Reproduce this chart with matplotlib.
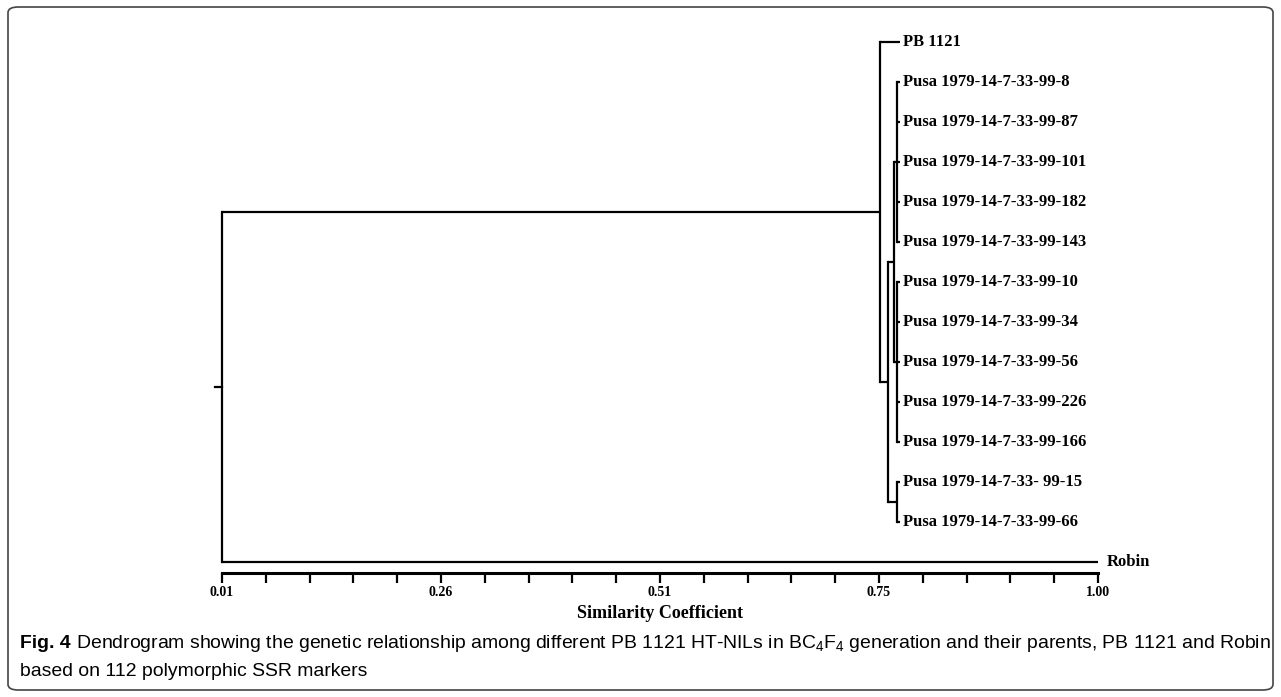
import matplotlib
matplotlib.use("Agg")
import matplotlib.pyplot as plt
from matplotlib.patches import FancyBboxPatch
import numpy as np

plt.rcParams['mathtext.default'] = 'regular'

# ---------------- data ----------------
leaf_labels = [
    "PB 1121",
    "Pusa 1979-14-7-33-99-8",
    "Pusa 1979-14-7-33-99-87",
    "Pusa 1979-14-7-33-99-101",
    "Pusa 1979-14-7-33-99-182",
    "Pusa 1979-14-7-33-99-143",
    "Pusa 1979-14-7-33-99-10",
    "Pusa 1979-14-7-33-99-34",
    "Pusa 1979-14-7-33-99-56",
    "Pusa 1979-14-7-33-99-226",
    "Pusa 1979-14-7-33-99-166",
    "Pusa 1979-14-7-33- 99-15",
    "Pusa 1979-14-7-33-99-66",
    "Robin",
]
# where each leaf's branch ends (similarity units, as drawn)
leaf_end = [0.776] * 13 + [1.00]

# clusters: name -> (children, similarity at which they join)
cluster_names = ["A", "B", "D", "C", "E", "F", "root"]
cluster_children = {
    "A": [1, 2, 3, 4, 5],
    "B": [6, 7, 8, 9, 10],
    "D": [11, 12],
    "C": ["A", "B"],
    "E": ["C", "D"],
    "F": [0, "E"],
    "root": ["F", 13],
}
cluster_sim = {"A": 0.773, "B": 0.773, "D": 0.773, "C": 0.770,
               "E": 0.763, "F": 0.754, "root": 0.01}
root_stub = 0.002

tick_values = np.linspace(0.01, 1.00, 21)
tick_labels = ["0.01", "", "", "", "", "0.26", "", "", "", "", "0.51",
               "", "", "", "", "0.75", "", "", "", "", "1.00"]
x_title = "Similarity Coefficient"

# ---------------- figure ----------------
W, H = 1281, 697
fig = plt.figure(figsize=(W / 100, H / 100), dpi=100)

ax_left = 222 / W
ax_width = 876 / W
ax_bottom = 1 - 573 / H
ax_top = 1 - 30 / H
ax = fig.add_axes([ax_left, ax_bottom, ax_width, ax_top - ax_bottom])

lw = 1.6
col = "black"

ypos = {i: float(i) for i in range(len(leaf_labels))}
xpos = {i: leaf_end[i] for i in range(len(leaf_labels))}
for name in cluster_names:
    ch = cluster_children[name]
    ys = [ypos[c] for c in ch]
    xn = cluster_sim[name]
    ax.plot([xn, xn], [min(ys), max(ys)], color=col, lw=lw,
            solid_capstyle="projecting", clip_on=False)
    for c in ch:
        ax.plot([xn, xpos[c]], [ypos[c], ypos[c]], color=col, lw=lw,
                solid_capstyle="butt", clip_on=False)
    ypos[name] = (min(ys) + max(ys)) / 2
    xpos[name] = xn

# root stub
ax.plot([root_stub, cluster_sim["root"]], [ypos["root"], ypos["root"]],
        color=col, lw=lw, clip_on=False)

# leaf labels
for i, lab in enumerate(leaf_labels):
    off = 6 if i == len(leaf_labels) - 1 else 2
    ax.annotate(lab, xy=(leaf_end[i], ypos[i]), xytext=(off, 0),
                textcoords="offset points", va="center", ha="left",
                fontfamily="Liberation Serif", fontweight="bold",
                fontsize=12, annotation_clip=False)

ax.set_xlim(0.01, 1.00)
ax.set_ylim(13.275, -0.3)
for s in ["top", "left", "right"]:
    ax.spines[s].set_visible(False)
ax.spines["bottom"].set_linewidth(2.2)
ax.set_yticks([])
ax.set_xticks(tick_values)
ax.set_xticklabels(tick_labels, fontfamily="Liberation Serif",
                   fontweight="bold", fontsize=10)
ax.tick_params(axis="x", direction="out", length=7, width=1.6, pad=2)

fig.text(660 / W, 1 - 613 / H, x_title, ha="center", va="center",
         fontfamily="Liberation Serif", fontweight="bold", fontsize=13)

# border
frame = FancyBboxPatch((8 / W, 7 / H), (1273 - 8) / W, (690 - 7) / H,
                       boxstyle="round,pad=0,rounding_size=0.008",
                       transform=fig.transFigure, fill=False,
                       ec="#444444", lw=1.2)
fig.patches.append(frame)

# caption
cap_font = ["Liberation Sans Narrow", "Liberation Sans"]
cap_bold = "Fig. 4"
cap_rest = (" Dendrogram showing the genetic relationship among different PB 1121 "
            "HT-NILs in BC$_4$F$_4$ generation and their parents, PB 1121 and Robin")
cap_line2 = "based on 112 polymorphic SSR markers"

renderer = fig.canvas.get_renderer()
x0 = 20
y1 = 1 - 643 / H
y2 = 1 - 672 / H
base = 12
tb = fig.text(x0 / W, y1, cap_bold, fontweight="bold", fontsize=base,
              family=cap_font, va="center", ha="left")
bw = tb.get_window_extent(renderer).width
tr = fig.text((x0 + bw) / W, y1, cap_rest, fontsize=base,
              family=cap_font, va="center", ha="left")
rw = tr.get_window_extent(renderer).width
scale = (1268 - x0) / (bw + rw)
fs = base * scale
tb.set_fontsize(fs)
tr.set_fontsize(fs)
bw = tb.get_window_extent(renderer).width
tr.set_x((x0 + bw) / W)
fig.text(x0 / W, y2, cap_line2, fontsize=fs, family=cap_font,
         va="center", ha="left")

fig.savefig("out.png", dpi=100)
